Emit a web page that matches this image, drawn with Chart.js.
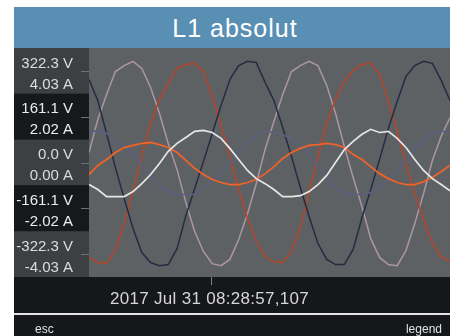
<!DOCTYPE html>
<html>
<head>
<meta charset="utf-8">
<script src="https://cdn.jsdelivr.net/npm/chart.js@4/dist/chart.umd.min.js"></script>
<style>
  html, body { margin: 0; padding: 0; background: #ffffff; width: 450px; height: 336px; overflow: hidden;
    font-family: "Liberation Sans", Arial, sans-serif; }
  #head { position: absolute; left: 14px; top: 7px; width: 436px; height: 41px; overflow: hidden;
    background: #5a8fb4; color: #ffffff; font-size: 25px; letter-spacing: 1px; line-height: 43px;
    text-align: center; padding-left: 6px; box-sizing: border-box; }
  #scope { position: absolute; left: 14px; top: 48px; width: 436px; height: 265px; background: #15171a; }
  #stamp { position: absolute; left: 110px; top: 289px; color: #d6d6d6; font-size: 17px;
    letter-spacing: 0.3px; line-height: 20px; white-space: nowrap; }
  #sep { position: absolute; left: 14px; top: 313px; width: 436px; height: 2px; background: #e4e4e4; }
  #foot { position: absolute; left: 14px; top: 315px; width: 436px; height: 21px; background: #15171a;
    color: #e2e2e2; font-size: 12px; line-height: 14px; }
  #esc { position: absolute; left: 21px; top: 7px; }
  #legend { position: absolute; right: 8px; top: 7px; }
</style>
</head>
<body>
<div id="head">L1 absolut</div>
<div id="scope"><canvas id="c" width="436" height="265"></canvas></div>
<div id="stamp">2017 Jul 31 08:28:57,107</div>
<div id="sep"></div>
<div id="foot"><span id="esc">esc</span><span id="legend">legend</span></div>
<script>
// sample times (ms)
const timeMs = [0,1,2,3,4,5,6,7,8,9,10,11,12,13,14,15,16,17,18,19,20,
                21,22,23,24,25,26,27,28,29,30,31,32,33,34,35,36,37,38,39,40,41];

// phase voltages (V)
const voltL1 = [35,151,239,320,341,356,331,264,173,67,-25,-141,-243,-313,-356,-363,-341,-271,-180,-74,46,
                144,239,320,341,356,341,271,173,56,-53,-155,-268,-334,-359,-363,-310,-215,-109,7,92,158];
const voltL2 = [-334,-352,-356,-306,-215,-99,25,137,222,278,331,345,349,320,232,130,21,-95,-197,-278,-331,
                -349,-352,-313,-229,-106,21,137,222,285,324,345,349,310,218,109,-4,-109,-201,-282,-331,-349];
const voltL3 = [292,218,102,-18,-127,-232,-317,-352,-363,-359,-303,-187,-92,4,102,201,292,341,356,352,282,
                218,123,21,-88,-190,-285,-341,-359,-359,-306,-194,-95,11,120,215,303,341,356,349,289,218];

// phase currents (A)
const currWhite = [-0.97,-1.19,-1.50,-1.50,-1.50,-1.28,-0.93,-0.53,-0.04,0.49,0.84,1.10,1.37,1.41,1.32,1.06,0.62,0.13,-0.35,-0.71,-0.93,
                   -1.19,-1.50,-1.50,-1.46,-1.28,-0.97,-0.57,0.00,0.57,0.93,1.24,1.46,1.32,1.37,1.06,0.66,0.13,-0.35,-0.71,-0.97,-1.24];
const currOrange = [-0.53,-0.13,0.13,0.44,0.66,0.75,0.84,0.88,0.79,0.66,0.44,0.09,-0.26,-0.53,-0.75,-0.88,-0.97,-0.97,-0.88,-0.75,-0.49,
                    -0.18,0.18,0.44,0.62,0.75,0.79,0.84,0.79,0.66,0.35,0.13,-0.18,-0.49,-0.71,-0.88,-0.97,-0.97,-0.84,-0.66,-0.40,-0.13];
const currSlate = [1.32,1.41,1.28,0.93,0.71,0.35,-0.13,-0.62,-1.02,-1.28,-1.41,-1.41,-1.41,-1.10,-0.84,-0.49,0.00,0.49,0.88,1.24,1.37,
                   1.32,1.24,1.02,0.75,0.44,-0.13,-0.62,-1.10,-1.37,-1.41,-1.41,-1.32,-1.06,-0.79,-0.35,0.13,0.62,0.97,1.28,1.37,1.37];

// axis ticks and labels
const voltTicks = [322.3, 161.1, 0, -161.1, -322.3];
const voltLabels = ['322.3 V', '161.1 V', '0.0 V', '-161.1 V', '-322.3 V'];
const ampTicks = [4.03, 2.02, 0, -2.02, -4.03];
const ampLabels = ['4.03 A', '2.02 A', '0.00 A', '-2.02 A', '-4.03 A'];
const timeTicks = [13.86];
const timeRange = [0, 41];

// the voltage scale runs 25 % past the outer tick; the current scale follows it
const voltMax = voltTicks[0] * 1.25;
const ampMax = voltMax * ampTicks[0] / voltTicks[0];

function series(xs, ys) { return xs.map((x, i) => ({ x: x, y: ys[i] })); }

const scopePanel = {
  id: 'scopePanel',
  beforeDraw(chart) {
    const { ctx, chartArea: a, scales: { y } } = chart;
    ctx.save();
    ctx.fillStyle = '#5e6163';
    ctx.fillRect(a.left, a.top, a.right - a.left, a.bottom - a.top);
    const step = Math.abs(y.getPixelForValue(voltTicks[1]) - y.getPixelForValue(voltTicks[0]));
    voltTicks.forEach((v, i) => {
      const py = y.getPixelForValue(v);
      const top = i === 0 ? a.top : py - step / 2;
      const bot = i === voltTicks.length - 1 ? a.bottom : py + step / 2;
      ctx.fillStyle = i % 2 ? '#16191c' : '#3d4043';
      ctx.fillRect(0, top, a.left, bot - top);
      ctx.strokeStyle = '#707376';
      ctx.lineWidth = 1;
      ctx.beginPath();
      ctx.moveTo(a.left - 8, Math.round(py) + 0.5);
      ctx.lineTo(a.left, Math.round(py) + 0.5);
      ctx.stroke();
      ctx.fillStyle = i % 2 ? '#ececec' : '#dcdcdc';
      ctx.font = '15px "Liberation Sans", Arial, sans-serif';
      ctx.textAlign = 'right';
      ctx.textBaseline = 'middle';
      ctx.fillText(voltLabels[i], a.left - 16, py - 7.5);
      ctx.fillText(ampLabels[i], a.left - 16, py + 13.5);
    });
    ctx.restore();
  }
};

new Chart(document.getElementById('c'), {
  type: 'line',
  data: {
    datasets: [
      { label: 'I white', data: series(timeMs, currWhite), yAxisID: 'yA', borderColor: '#e6e6e6', borderWidth: 1.7 },
      { label: 'I orange', data: series(timeMs, currOrange), yAxisID: 'yA', borderColor: '#f0622a', borderWidth: 1.8 },
      { label: 'I slate', data: series(timeMs, currSlate), yAxisID: 'yA', borderColor: '#5b6082', borderWidth: 1.6 },
      { label: 'U L3', data: series(timeMs, voltL3), yAxisID: 'y', borderColor: '#262b42', borderWidth: 1.5 },
      { label: 'U L2', data: series(timeMs, voltL2), yAxisID: 'y', borderColor: '#b8452b', borderWidth: 1.5 },
      { label: 'U L1', data: series(timeMs, voltL1), yAxisID: 'y', borderColor: '#ab96a3', borderWidth: 1.5 }
    ]
  },
  options: {
    responsive: false,
    animation: false,
    devicePixelRatio: 1,
    layout: { padding: 0 },
    elements: { point: { radius: 0 }, line: { tension: 0, fill: false } },
    plugins: { legend: { display: false }, tooltip: { enabled: false } },
    scales: {
      x: {
        type: 'linear', min: timeRange[0], max: timeRange[1],
        afterBuildTicks: s => { s.ticks = timeTicks.map(v => ({ value: v })); },
        afterFit: s => { s.height = 36; },
        ticks: { display: false },
        border: { display: false },
        grid: { drawOnChartArea: false, drawTicks: true, tickLength: 8, color: '#7e8184', lineWidth: 1 }
      },
      y: {
        type: 'linear', position: 'left', min: -voltMax, max: voltMax,
        afterBuildTicks: s => { s.ticks = voltTicks.map(v => ({ value: v })); },
        afterFit: s => { s.width = 75; },
        ticks: { display: false },
        border: { display: false },
        grid: { display: false }
      },
      yA: {
        type: 'linear', position: 'right', display: false, min: -ampMax, max: ampMax
      }
    }
  },
  plugins: [scopePanel]
});
</script>
</body>
</html>
